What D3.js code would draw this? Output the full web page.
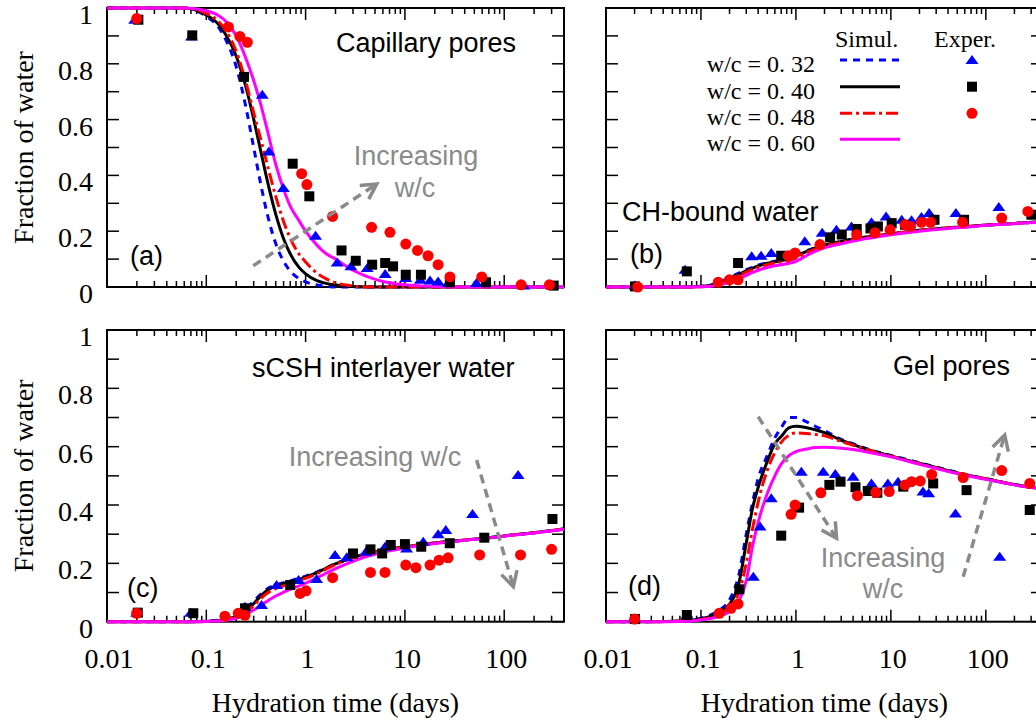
<!DOCTYPE html>
<html>
<head>
<meta charset="utf-8">
<script src="https://cdn.jsdelivr.net/npm/d3@7"></script>
<style>
  body { margin: 0; background: #fff; }
  svg { display: block; }
</style>
</head>
<body>
<script>
// Screen dimensions.
const WIDTH = 1036;
const HEIGHT = 723;

const SERIF = '"Liberation Serif", "Times New Roman", serif';
const SANS = '"Liberation Sans", Arial, sans-serif';
const GREY = '#8a8a8a';

// Axis ticks and labels.
const xTickValues = [0.01, 0.1, 1, 10, 100];
const xTickLabels = ['0.01', '0.1', '1', '10', '100'];
const yTickValues = [0, 0.2, 0.4, 0.6, 0.8, 1];
const yTickLabels = ['0', '0.2', '0.4', '0.6', '0.8', '1'];

// Simulation time grid (days), shared by every simulated curve.
const simTime = [0.01, 0.03, 0.06, 0.1, 0.13, 0.16, 0.2, 0.25, 0.3, 0.35, 0.4, 0.5, 0.6, 0.7, 0.85, 1, 1.3, 1.6, 2, 3, 4, 6, 10, 20, 40, 70, 100, 200, 400];

// Series names (w/c ratios).
const wcLabels = ['w/c = 0. 32', 'w/c = 0. 40', 'w/c = 0. 48', 'w/c = 0. 60'];

// (a) Capillary pores - simulated, w/c 0.32, 0.40, 0.48, 0.60
const simA32 = [1, 1, 1, 0.97, 0.935, 0.88, 0.79, 0.646, 0.5, 0.376, 0.279, 0.156, 0.092, 0.057, 0.031, 0.018, 0.007, 0.003, 0, 0, 0, 0, 0, 0, 0, 0, 0, 0, 0];
const simA40 = [1, 1, 1, 0.975, 0.945, 0.9, 0.828, 0.718, 0.602, 0.494, 0.4, 0.261, 0.173, 0.119, 0.072, 0.047, 0.023, 0.013, 0.007, 0.002, 0, 0, 0, 0, 0, 0, 0, 0, 0];
const simA48 = [1, 1, 1, 0.98, 0.955, 0.915, 0.845, 0.735, 0.625, 0.535, 0.455, 0.325, 0.235, 0.175, 0.12, 0.09, 0.05, 0.03, 0.015, 0.004, 0, 0, 0, 0, 0, 0, 0, 0, 0];
const simA60 = [1, 1, 1, 0.99, 0.975, 0.95, 0.9, 0.82, 0.74, 0.66, 0.58, 0.44, 0.35, 0.29, 0.24, 0.2, 0.15, 0.12, 0.1, 0.06, 0.04, 0.02, 0.008, 0.002, 0, 0, 0, 0, 0];

// (b) CH-bound water - simulated
const simB32 = [0, 0, 0, 0.003, 0.008, 0.018, 0.034, 0.05, 0.062, 0.071, 0.078, 0.087, 0.092, 0.097, 0.102, 0.112, 0.13, 0.141, 0.151, 0.163, 0.172, 0.181, 0.19, 0.203, 0.212, 0.218, 0.222, 0.228, 0.234];
const simB40 = [0, 0, 0, 0.002, 0.006, 0.015, 0.03, 0.045, 0.058, 0.068, 0.075, 0.085, 0.09, 0.095, 0.1, 0.11, 0.128, 0.14, 0.15, 0.163, 0.172, 0.181, 0.19, 0.203, 0.212, 0.218, 0.222, 0.228, 0.234];
const simB48 = [0, 0, 0, 0.001, 0.004, 0.011, 0.025, 0.04, 0.053, 0.063, 0.07, 0.08, 0.086, 0.09, 0.095, 0.104, 0.123, 0.136, 0.147, 0.16, 0.17, 0.18, 0.19, 0.203, 0.212, 0.218, 0.222, 0.228, 0.234];
const simB60 = [0, 0, 0, 0.001, 0.003, 0.008, 0.018, 0.03, 0.042, 0.052, 0.06, 0.07, 0.076, 0.08, 0.085, 0.092, 0.113, 0.128, 0.14, 0.155, 0.165, 0.176, 0.187, 0.2, 0.21, 0.216, 0.221, 0.227, 0.233];

// (c) sCSH interlayer water - simulated
const simC32 = [0, 0, 0, 0.002, 0.005, 0.011, 0.023, 0.045, 0.07, 0.093, 0.11, 0.126, 0.134, 0.14, 0.148, 0.156, 0.17, 0.184, 0.199, 0.22, 0.232, 0.245, 0.257, 0.27, 0.28, 0.288, 0.294, 0.305, 0.318];
const simC40 = [0, 0, 0, 0.001, 0.003, 0.008, 0.018, 0.038, 0.062, 0.087, 0.105, 0.122, 0.131, 0.137, 0.145, 0.153, 0.168, 0.183, 0.198, 0.22, 0.232, 0.245, 0.257, 0.27, 0.28, 0.288, 0.294, 0.305, 0.318];
const simC48 = [0, 0, 0, 0.001, 0.003, 0.007, 0.016, 0.033, 0.055, 0.078, 0.095, 0.113, 0.123, 0.13, 0.14, 0.149, 0.165, 0.18, 0.196, 0.219, 0.231, 0.244, 0.256, 0.27, 0.28, 0.288, 0.294, 0.305, 0.318];
const simC60 = [0, 0, 0, 0.001, 0.002, 0.005, 0.012, 0.025, 0.04, 0.055, 0.068, 0.088, 0.101, 0.111, 0.122, 0.132, 0.15, 0.166, 0.182, 0.207, 0.222, 0.238, 0.253, 0.268, 0.279, 0.287, 0.293, 0.304, 0.317];

// (d) Gel pores - simulated
const simD32 = [0, 0, 0.002, 0.012, 0.025, 0.042, 0.075, 0.16, 0.3, 0.41, 0.49, 0.57, 0.63, 0.665, 0.7, 0.7, 0.685, 0.67, 0.655, 0.625, 0.61, 0.59, 0.57, 0.545, 0.52, 0.5, 0.49, 0.47, 0.455];
const simD40 = [0, 0, 0.002, 0.01, 0.02, 0.035, 0.06, 0.13, 0.27, 0.39, 0.46, 0.55, 0.61, 0.635, 0.665, 0.67, 0.665, 0.658, 0.648, 0.622, 0.607, 0.588, 0.568, 0.543, 0.518, 0.5, 0.49, 0.47, 0.455];
const simD48 = [0, 0, 0.002, 0.008, 0.016, 0.028, 0.05, 0.1, 0.2, 0.32, 0.41, 0.52, 0.58, 0.615, 0.64, 0.647, 0.645, 0.642, 0.637, 0.618, 0.605, 0.587, 0.567, 0.542, 0.517, 0.5, 0.49, 0.47, 0.455];
const simD60 = [0, 0, 0.001, 0.006, 0.012, 0.02, 0.035, 0.07, 0.14, 0.26, 0.34, 0.44, 0.5, 0.54, 0.57, 0.583, 0.592, 0.597, 0.598, 0.595, 0.59, 0.58, 0.565, 0.54, 0.515, 0.498, 0.488, 0.469, 0.455];

// Experimental points [time (days), fraction]. Tri = w/c 0.32, Sq = 0.40, Circ = 0.48
const expATri = [[0.019, 0.958], [0.071, 0.898], [0.366, 0.689], [0.427, 0.486], [0.597, 0.355], [1.26, 0.184], [2.08, 0.088], [2.86, 0.074], [4.17, 0.068], [6.33, 0.047], [10.2, 0.032], [14.3, 0.026], [17.9, 0.023], [21.6, 0.02], [27.2, 0.014], [52.5, 0.014], [157, 0.005], [300, 0.005]];
const expASq = [[0.0207, 0.958], [0.0722, 0.902], [0.24, 0.753], [0.741, 0.442], [1.09, 0.325], [2.3, 0.131], [3.2, 0.094], [4.68, 0.08], [6.33, 0.086], [7.6, 0.074], [10.2, 0.044], [14.5, 0.044], [28.4, 0.017], [65.6, 0.017], [315, 0.005]];
const expACirc = [[0.0199, 0.962], [0.167, 0.932], [0.218, 0.898], [0.259, 0.877], [0.912, 0.406], [1.03, 0.367], [1.87, 0.253], [4.62, 0.214], [7.07, 0.196], [10.2, 0.154], [13.4, 0.131], [17.1, 0.112], [21.6, 0.08], [28.4, 0.036], [59.4, 0.036], [148, 0.008], [285, 0.008]];

const expBTri = [[0.0202, 0.005], [0.068, 0.062], [0.342, 0.11], [0.43, 0.112], [0.55, 0.122], [1.24, 0.164], [1.89, 0.194], [2.67, 0.205], [3.85, 0.217], [6.25, 0.232], [8.9, 0.253], [13, 0.241], [16.5, 0.239], [21, 0.251], [25.3, 0.265], [48.4, 0.265], [137, 0.287]];
const expBSq = [[0.0202, 0.002], [0.071, 0.056], [0.246, 0.086], [0.7, 0.112], [2.29, 0.178], [3.04, 0.188], [4.37, 0.208], [6.1, 0.21], [7.3, 0.217], [10.2, 0.229], [14.1, 0.223], [28.8, 0.241], [59, 0.241], [302, 0.259]];
const expBCirc = [[0.0216, 0], [0.152, 0.017], [0.2, 0.026], [0.246, 0.026], [0.83, 0.112], [0.98, 0.122], [1.79, 0.152], [4.37, 0.188], [6.8, 0.194], [9.8, 0.205], [14.1, 0.223], [16.1, 0.217], [21, 0.232], [26.2, 0.232], [56.8, 0.232], [147, 0.247], [277, 0.271]];

const expCTri = [[0.0199, 0.031], [0.0696, 0.031], [0.245, 0.051], [0.36, 0.057], [0.51, 0.126], [0.85, 0.143], [1.29, 0.146], [1.98, 0.229], [2.6, 0.221], [4.05, 0.24], [6.3, 0.257], [10.4, 0.251], [15.3, 0.274], [21.6, 0.3], [25.8, 0.314], [48, 0.369], [138, 0.503]];
const expCSq = [[0.0204, 0.031], [0.074, 0.029], [0.245, 0.046], [0.7, 0.126], [3.0, 0.234], [4.5, 0.248], [5.9, 0.234], [7.2, 0.263], [10, 0.266], [14.6, 0.257], [28.3, 0.269], [63, 0.288], [306, 0.352]];
const expCCirc = [[0.0199, 0.029], [0.154, 0.019], [0.21, 0.029], [0.245, 0.022], [0.88, 0.097], [1.01, 0.106], [1.87, 0.151], [4.5, 0.169], [6.3, 0.169], [10.2, 0.194], [12.9, 0.185], [17.9, 0.194], [22.1, 0.211], [27.2, 0.219], [56.6, 0.229], [146, 0.229], [300, 0.248]];

const expDTri = [[0.02, 0.01], [0.071, 0.023], [0.356, 0.154], [0.42, 0.326], [0.55, 0.423], [1.14, 0.514], [1.94, 0.514], [2.6, 0.506], [4.0, 0.497], [6.25, 0.474], [9.3, 0.474], [11.9, 0.48], [21.8, 0.446], [25, 0.44], [47.9, 0.371], [140, 0.223]];
const expDSq = [[0.0202, 0.009], [0.071, 0.023], [0.254, 0.111], [0.7, 0.295], [1.08, 0.391], [2.25, 0.469], [2.95, 0.48], [4.24, 0.461], [5.7, 0.448], [7.2, 0.442], [13.5, 0.463], [27.9, 0.474], [62.7, 0.451], [290, 0.383]];
const expDCirc = [[0.02, 0.009], [0.156, 0.029], [0.207, 0.046], [0.246, 0.061], [0.89, 0.368], [0.98, 0.4], [1.83, 0.442], [4.44, 0.432], [6.95, 0.443], [9.6, 0.446], [14.1, 0.469], [16.5, 0.48], [20.4, 0.482], [26.9, 0.505], [57.7, 0.494], [147, 0.518], [290, 0.474]];

// Line styles for the four simulated series.
const SIM_STYLE = [
  { color: '#0000ff', dash: '7,6' },
  { color: '#000000', dash: null },
  { color: '#ff0000', dash: '12,4,3,4' },
  { color: '#ff00ff', dash: null }
];
const MARK_COLOR = ['#0000ff', '#000000', '#ff0000'];

// Panel layout.
const panels = [
  { left: 107, right: 564, top: 8, bottom: 287, xLab: false, yLab: true,
    sim: [simA32, simA40, simA48, simA60], exp: [expATri, expASq, expACirc],
    title: { text: 'Capillary pores', x: 426, y: 52, anchor: 'middle' },
    tag: { text: '(a)', x: 130, y: 265 },
    notes: [{ text: 'Increasing', x: 416, y: 165 }, { text: 'w/c', x: 415, y: 197 }],
    arrows: [[[0.297, 0.076], [5.2, 0.369]]] },
  { left: 606, right: 1043, top: 8, bottom: 287, xLab: false, yLab: false,
    sim: [simB32, simB40, simB48, simB60], exp: [expBTri, expBSq, expBCirc],
    title: { text: 'CH-bound water', x: 622, y: 221, anchor: 'start' },
    tag: { text: '(b)', x: 630, y: 263 },
    notes: [], arrows: [] },
  { left: 107, right: 564, top: 330, bottom: 621.7, xLab: true, yLab: true,
    sim: [simC32, simC40, simC48, simC60], exp: [expCTri, expCSq, expCCirc],
    title: { text: 'sCSH interlayer water', x: 252, y: 377, anchor: 'start' },
    tag: { text: '(c)', x: 127, y: 597 },
    notes: [{ text: 'Increasing w/c', x: 375, y: 466 }],
    arrows: [[[52.8, 0.554], [123.6, 0.12]]] },
  { left: 606, right: 1043, top: 330, bottom: 621.7, xLab: true, yLab: false,
    sim: [simD32, simD40, simD48, simD60], exp: [expDTri, expDSq, expDCirc],
    title: { text: 'Gel pores', x: 893, y: 375, anchor: 'start' },
    tag: { text: '(d)', x: 628, y: 595 },
    notes: [{ text: 'Increasing', x: 883, y: 567 }, { text: 'w/c', x: 883, y: 598 }],
    arrows: [[[0.40, 0.703], [2.68, 0.286]], [[57.7, 0.154], [158, 0.64]]] }
];

const svg = d3.select('body').append('svg')
  .attr('width', WIDTH).attr('height', HEIGHT);

// Marker shapes
function drawMarker(g, kind, cx, cy, color) {
  if (kind === 0) {
    g.append('path').attr('d', `M${cx - 6.5},${cy + 4} L${cx + 6.5},${cy + 4} L${cx},${cy - 5} Z`).attr('fill', color);
  } else if (kind === 1) {
    g.append('rect').attr('x', cx - 5).attr('y', cy - 5).attr('width', 10).attr('height', 10).attr('fill', color);
  } else {
    g.append('circle').attr('cx', cx).attr('cy', cy).attr('r', 5.5).attr('fill', color);
  }
}

function drawArrow(g, x1, y1, x2, y2) {
  g.append('line')
    .attr('x1', x1).attr('y1', y1).attr('x2', x2).attr('y2', y2)
    .attr('stroke', GREY).attr('stroke-width', 3.5).attr('stroke-dasharray', '9,6');
  const a = Math.atan2(y2 - y1, x2 - x1);
  const L = 17, w = 0.5;
  const p1 = [x2 - L * Math.cos(a - w), y2 - L * Math.sin(a - w)];
  const p2 = [x2 - L * Math.cos(a + w), y2 - L * Math.sin(a + w)];
  g.append('path')
    .attr('d', `M${p1[0]},${p1[1]} L${x2},${y2} L${p2[0]},${p2[1]}`)
    .attr('fill', 'none').attr('stroke', GREY).attr('stroke-width', 3.5);
}

function isDecade(d) {
  const l = Math.log10(d);
  return Math.abs(l - Math.round(l)) < 1e-6;
}

panels.forEach(p => {
  const x = d3.scaleLog().domain([0.01, 400]).range([p.left, p.right]);
  const y = d3.scaleLinear().domain([0, 1]).range([p.bottom, p.top]);
  const g = svg.append('g');

  // ticks, inward on all four sides
  const ticks = g.append('g').attr('stroke', '#000').attr('stroke-width', 1.5);
  x.ticks().forEach(d => {
    const len = isDecade(d) ? 12 : 6;
    ticks.append('line').attr('x1', x(d)).attr('x2', x(d)).attr('y1', p.bottom).attr('y2', p.bottom - len);
    ticks.append('line').attr('x1', x(d)).attr('x2', x(d)).attr('y1', p.top).attr('y2', p.top + len);
  });
  y.ticks(10).forEach(d => {
    ticks.append('line').attr('x1', p.left).attr('x2', p.left + 12).attr('y1', y(d)).attr('y2', y(d));
    ticks.append('line').attr('x1', p.right).attr('x2', p.right - 12).attr('y1', y(d)).attr('y2', y(d));
  });

  // frame
  g.append('rect')
    .attr('x', p.left).attr('y', p.top)
    .attr('width', p.right - p.left).attr('height', p.bottom - p.top)
    .attr('fill', 'none').attr('stroke', '#000').attr('stroke-width', 2);

  // tick labels
  if (p.xLab) {
    g.selectAll('.xl').data(xTickValues).enter().append('text')
      .attr('x', d => x(d) + 2).attr('y', p.bottom + 46)
      .attr('text-anchor', 'middle')
      .style('font-family', SERIF).style('font-size', '28px')
      .text((d, i) => xTickLabels[i]);
    g.append('text')
      .attr('x', (p.left + p.right) / 2).attr('y', 712)
      .attr('text-anchor', 'middle')
      .style('font-family', SERIF).style('font-size', '28px')
      .text('Hydration time (days)');
  }
  if (p.yLab) {
    g.selectAll('.yl').data(yTickValues).enter().append('text')
      .attr('x', p.left - 14).attr('y', d => y(d) + 16)
      .attr('text-anchor', 'end')
      .style('font-family', SERIF).style('font-size', '28px')
      .text((d, i) => yTickLabels[i]);
    g.append('text')
      .attr('transform', `translate(33,${(p.top + p.bottom) / 2}) rotate(-90)`)
      .attr('text-anchor', 'middle')
      .style('font-family', SERIF).style('font-size', '28px')
      .text('Fraction of water');
  }

  // simulated curves
  const line = d3.line()
    .x((d, i) => x(simTime[i]))
    .y(d => y(d))
    .curve(d3.curveMonotoneX);
  p.sim.forEach((s, k) => {
    g.append('path')
      .attr('d', line(s))
      .attr('fill', 'none')
      .attr('stroke', SIM_STYLE[k].color)
      .attr('stroke-width', 3)
      .attr('stroke-dasharray', SIM_STYLE[k].dash);
  });

  // experimental points
  p.exp.forEach((set, k) => {
    set.forEach(d => drawMarker(g, k, x(d[0]), y(d[1]), MARK_COLOR[k]));
  });

  // annotations
  g.append('text')
    .attr('x', p.title.x).attr('y', p.title.y)
    .attr('text-anchor', p.title.anchor)
    .style('font-family', SANS).style('font-size', '27px')
    .text(p.title.text);
  g.append('text')
    .attr('x', p.tag.x).attr('y', p.tag.y)
    .style('font-family', SANS).style('font-size', '27px')
    .text(p.tag.text);
  p.notes.forEach(n => {
    g.append('text')
      .attr('x', n.x).attr('y', n.y)
      .attr('text-anchor', 'middle')
      .attr('fill', GREY)
      .style('font-family', SANS).style('font-size', '27px')
      .text(n.text);
  });
  p.arrows.forEach(a => {
    drawArrow(g, x(a[0][0]), y(a[0][1]), x(a[1][0]), y(a[1][1]));
  });
});

// Legend (inside panel b)
const legend = svg.append('g').attr('id', 'legend')
  .style('font-family', SERIF).style('font-size', '24px');
legend.append('text').attr('x', 835).attr('y', 47).text('Simul.');
legend.append('text').attr('x', 934).attr('y', 47).text('Exper.');
const rowY = [60, 86.7, 113.3, 139.3];
wcLabels.forEach((lab, i) => {
  legend.append('text')
    .attr('x', 815).attr('y', rowY[i] + 12)
    .attr('text-anchor', 'end')
    .text(lab);
  legend.append('line')
    .attr('x1', 840).attr('x2', 900).attr('y1', rowY[i]).attr('y2', rowY[i])
    .attr('stroke', SIM_STYLE[i].color).attr('stroke-width', 3)
    .attr('stroke-dasharray', SIM_STYLE[i].dash);
  if (i < 3) drawMarker(legend, i, 972, rowY[i], MARK_COLOR[i]);
});
</script>
</body>
</html>
